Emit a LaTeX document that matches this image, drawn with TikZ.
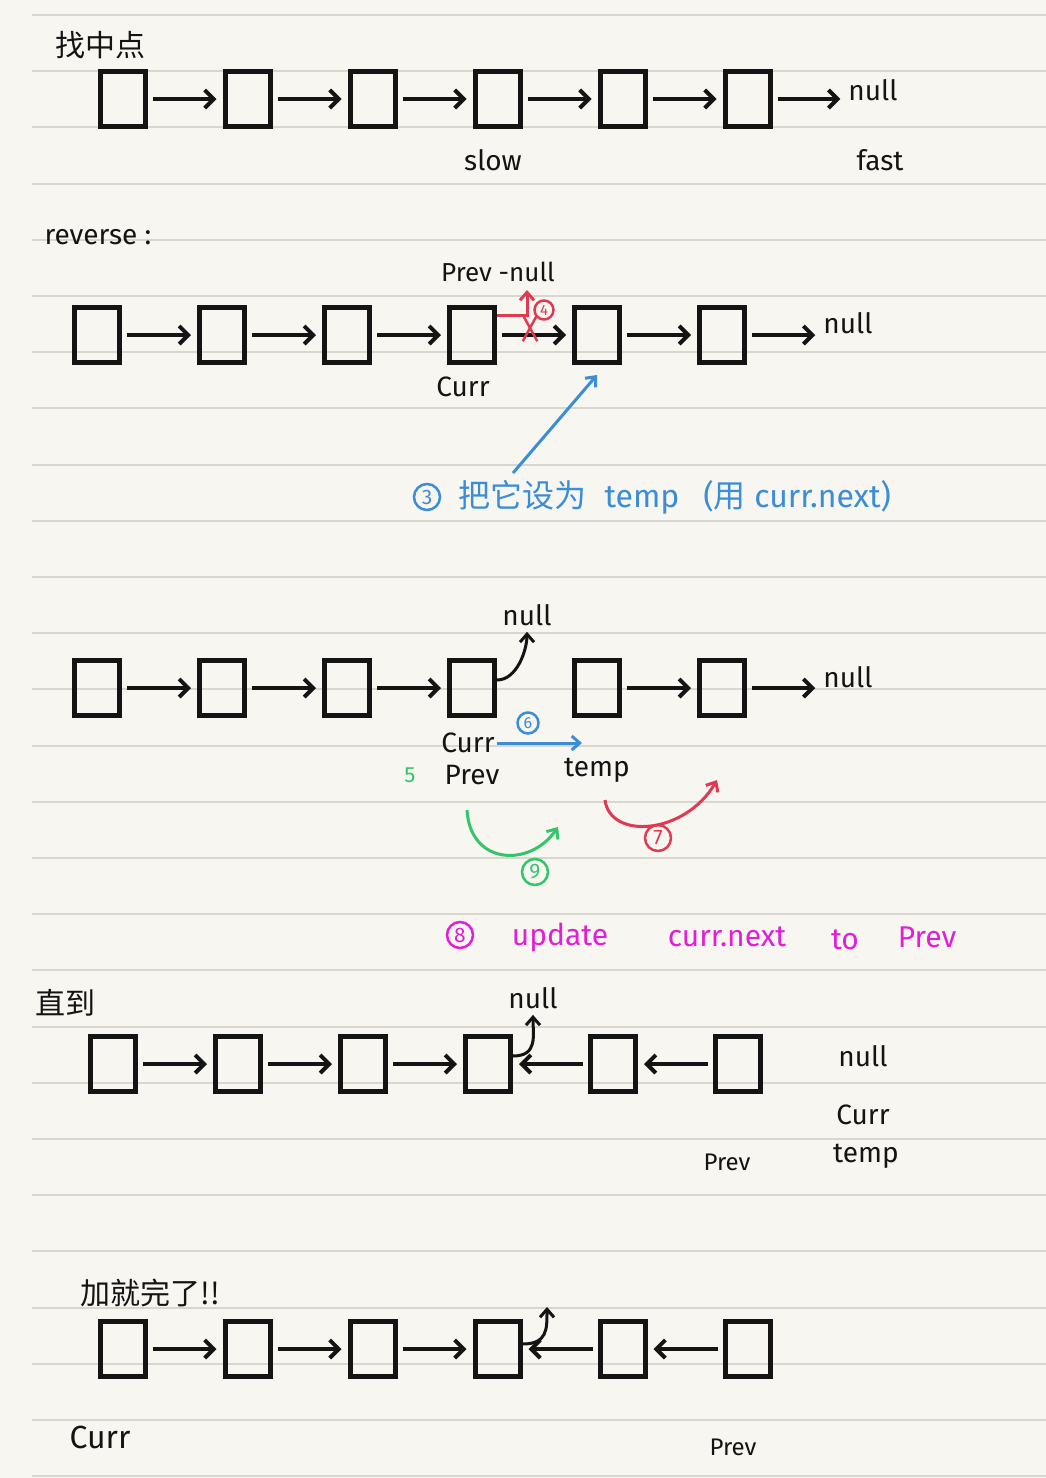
\documentclass[tikz,border=0pt]{standalone}
\usepackage{fontspec}
\setmainfont{Fira Sans}
\newfontfamily\cjk{Noto Sans CJK SC}
\usetikzlibrary{positioning,arrows.meta,shapes.misc}
\definecolor{paper}{HTML}{F8F6F0}
\definecolor{ruling}{HTML}{D9D6CF}
\definecolor{ink}{HTML}{141414}
\definecolor{blueink}{HTML}{3A8DD6}
\definecolor{redink}{HTML}{E03A52}
\definecolor{greenink}{HTML}{34C46A}
\definecolor{pinkink}{HTML}{E21ED6}

\begin{document}
\begin{tikzpicture}[x=1pt, y=-1pt, node distance=125pt,
        box/.style={
            rectangle,
            draw=ink, line width=5pt,
            minimum width=45pt,
            minimum height=55pt,
            inner sep=0pt},
        arrow/.style={
            draw=ink, line width=4pt,
            -{Straight Barb[length=9pt,width=18pt]},
            shorten <=5pt, shorten >=6pt},
        link/.style={
            line width=3pt,
            -{Straight Barb[length=8pt,width=14pt]}},
        hand/.style={
            text=ink, inner sep=2pt,
            font=\fontsize{28}{30}\selectfont},
        heading/.style={
            text=ink,
            font=\cjk\fontsize{30}{32}\selectfont},
        badge/.style={
            circle, draw=#1, text=#1,
            line width=2.5pt, inner sep=0pt,
            minimum size=26pt,
            font=\fontsize{21}{21}\selectfont}
        ]

        % paper
        \useasboundingbox (0,0) rectangle (1046,1478);
        \fill [paper] (0,0) rectangle (1046,1478);
        \foreach \k in {0,...,26}
            \draw [ruling, line width=2pt] (32,{15+56.2*\k}) -- (1046,{15+56.2*\k});

        % find the middle
        \node (find) [heading] at (100,45) {找中点};
        \node (a1) [box] at (122.5,99) {};
        \node (a2) [box, right of=a1] {};
        \node (a3) [box, right of=a2] {};
        \node (a4) [box, right of=a3] {};
        \node (a5) [box, right of=a4] {};
        \node (a6) [box, right of=a5] {};
        \node (anull) [hand] at (873,90) {null};
        \node (slow) [hand] at (493,160) {slow};
        \node (fast) [hand] at (880,160) {fast};

        \draw [arrow] (a1) -- (a2);
        \draw [arrow] (a2) -- (a3);
        \draw [arrow] (a3) -- (a4);
        \draw [arrow] (a4) -- (a5);
        \draw [arrow] (a5) -- (a6);
        \draw [arrow] (a6.east) -- (anull.west |- a6.east);

        % reverse
        \node (rev) [hand] at (98,237) {reverse :};
        \node (b1) [box] at (97,335) {};
        \node (b2) [box, right of=b1] {};
        \node (b3) [box, right of=b2] {};
        \node (b4) [box, right of=b3] {};
        \node (b5) [box, right of=b4] {};
        \node (b6) [box, right of=b5] {};
        \node (bnull) [hand] at (848,323) {null};
        \node (bprev) [hand, font=\fontsize{26}{28}\selectfont] at (498,272) {Prev -null};
        \node (bcurr) [hand] at (463,387) {Curr};

        \draw [arrow] (b1) -- (b2);
        \draw [arrow] (b2) -- (b3);
        \draw [arrow] (b3) -- (b4);
        \draw [arrow] (b4) -- (b5);
        \draw [arrow] (b5) -- (b6);
        \draw [arrow] (b6.east) -- (bnull.west |- b6.east);

        \coordinate (btip) at (527,290);
        \draw [link, draw=redink] ([yshift=20pt]b4.east) -| (btip);
        \node (four) [badge=redink, minimum size=19pt, font=\fontsize{15}{15}\selectfont] at (544,310) {4};
        \node (cut) [cross out, draw=redink, line width=2.5pt, minimum width=12pt, minimum height=24pt, inner sep=0pt] at (530,328) {};

        \node (three) [badge=blueink] at (427,497) {3};
        \node (tempnote) [anchor=west, text=blueink, font=\fontsize{32}{34}\selectfont] at (455,497)
            {{\cjk 把它设为}\hspace{18pt}temp\hspace{24pt}({\cjk 用} curr.next)};
        \coordinate (bfoot) at (513,473);
        \draw [link, draw=blueink] (bfoot) -- ([yshift=-10pt]b5.south);

        % one step
        \node (c1) [box] at (97,688) {};
        \node (c2) [box, right of=c1] {};
        \node (c3) [box, right of=c2] {};
        \node (c4) [box, right of=c3] {};
        \node (c5) [box, right of=c4] {};
        \node (c6) [box, right of=c5] {};
        \node (cnull) [hand] at (848,677) {null};
        \node (cup) [hand] at (527,615) {null};

        \draw [arrow] (c1) -- (c2);
        \draw [arrow] (c2) -- (c3);
        \draw [arrow] (c3) -- (c4);
        \draw [arrow] (c5) -- (c6);
        \draw [arrow] (c6.east) -- (cnull.west |- c6.east);
        \draw [link, draw=ink, shorten >=4pt] ([yshift=8pt]c4.east) .. controls +(20,0) and +(0,22) .. (cup.south);

        \node (six) [badge=blueink, minimum size=21pt, font=\fontsize{16}{16}\selectfont] at (528,723) {6};
        \node (ccurr) [hand] at (468,743) {Curr};
        \node (cprev) [hand] at (472,775) {Prev};
        \node (ctemp) [hand] at (597,770) {temp};
        \node (five) [hand, text=greenink, font=\fontsize{22}{24}\selectfont] at (410,775) {5};
        \coordinate (tnext) at (582,743);
        \draw [link, draw=blueink] (ccurr.east) -- (tnext);

        \coordinate (gstart) at (467,810);
        \coordinate (gend) at (558,827);
        \draw [link, draw=greenink] (gstart) .. controls (470,865) and (530,868) .. (gend);
        \node (nine) [badge=greenink] at (535,872) {9};

        \coordinate (rstart) at (605,800);
        \coordinate (rend) at (717,780);
        \draw [link, draw=redink] (rstart) .. controls (610,840) and (685,835) .. (rend);
        \node (seven) [badge=redink] at (658,838) {7};

        \node (eight) [badge=pinkink] at (460,935) {8};
        \node (upd) [text=pinkink, font=\fontsize{30}{32}\selectfont] at (560,937) {update};
        \node (cnext) [text=pinkink, font=\fontsize{30}{32}\selectfont] at (727,937) {curr.next};
        \node (upto) [text=pinkink, font=\fontsize{30}{32}\selectfont] at (845,940) {to};
        \node (pv) [text=pinkink, font=\fontsize{30}{32}\selectfont] at (927,937) {Prev};

        % until
        \node (until) [heading] at (65,1003) {直到};
        \node (d1) [box] at (113,1064) {};
        \node (d2) [box, right of=d1] {};
        \node (d3) [box, right of=d2] {};
        \node (d4) [box, right of=d3] {};
        \node (d5) [box, right of=d4] {};
        \node (d6) [box, right of=d5] {};
        \node (dup) [hand] at (533,998) {null};

        \draw [arrow] (d1) -- (d2);
        \draw [arrow] (d2) -- (d3);
        \draw [arrow] (d3) -- (d4);
        \draw [arrow] (d5) -- (d4);
        \draw [arrow] (d6) -- (d5);
        \draw [link, draw=ink, shorten >=4pt] ([yshift=8pt]d4.east) .. controls +(25,0) and +(0,25) .. (dup.south);

        \node (dnull) [hand] at (863,1056) {null};
        \node (dcurr) [hand] at (863,1115) {Curr};
        \node (dtemp) [hand] at (866,1156) {temp};
        \node (dprev) [hand, font=\fontsize{24}{26}\selectfont] at (727,1162) {Prev};

        % done
        \node (done) [heading] at (150,1293) {加就完了!!};
        \node (e1) [box] at (122.5,1349) {};
        \node (e2) [box, right of=e1] {};
        \node (e3) [box, right of=e2] {};
        \node (e4) [box, right of=e3] {};
        \node (e5) [box, right of=e4] {};
        \node (e6) [box, right of=e5] {};

        \draw [arrow] (e1) -- (e2);
        \draw [arrow] (e2) -- (e3);
        \draw [arrow] (e3) -- (e4);
        \draw [arrow] (e5) -- (e4);
        \draw [arrow] (e6) -- (e5);
        \coordinate (etip) at (547,1307);
        \draw [link, draw=ink] ([yshift=5pt]e4.east) .. controls +(25,0) and +(0,22) .. (etip);

        \node (ecurr) [hand, font=\fontsize{32}{34}\selectfont] at (100,1437) {Curr};
        \node (eprev) [hand, font=\fontsize{24}{26}\selectfont] at (733,1447) {Prev};

\end{tikzpicture}
\end{document}
